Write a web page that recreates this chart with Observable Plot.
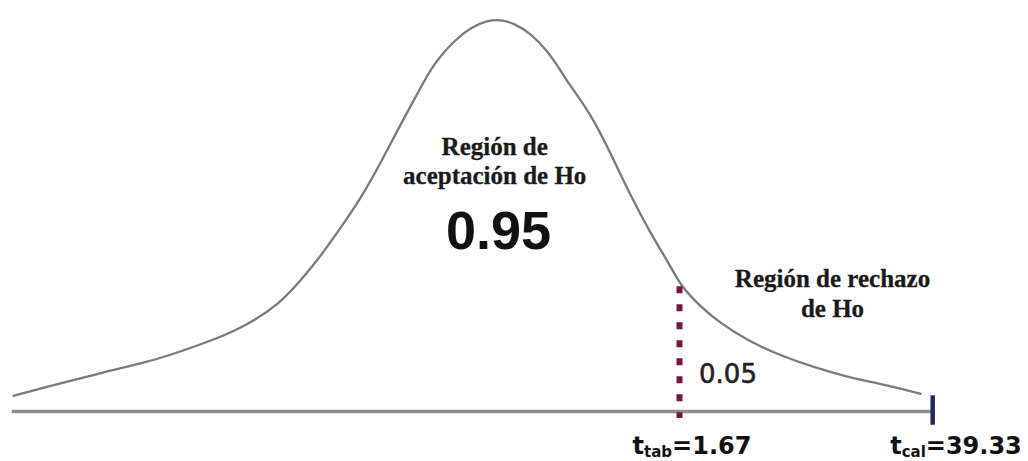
<!DOCTYPE html>
<html>
<head>
<meta charset="utf-8">
<script src="https://cdn.jsdelivr.net/npm/d3@7"></script>
<script src="https://cdn.jsdelivr.net/npm/@observablehq/plot@0.6"></script>
<style>
  html, body { margin: 0; padding: 0; background: #ffffff; }
  #chart svg { display: block; }
</style>
</head>
<body>
<div id="chart"></div>
<script>
// Density curve (position on the drawn axis, height)
const curveT = [-4.00, -3.69, -3.28, -2.86, -2.61, -2.33, -2.05, -1.78, -1.61, -1.44,
                -1.28, -1.11, -0.94, -0.78, -0.61, -0.53, -0.44, -0.33, -0.19, -0.05,
                0.06, 0.17, 0.31, 0.45, 0.56, 0.63, 0.81, 0.98, 1.14, 1.31,
                1.48, 1.56, 1.73, 1.89, 2.12, 2.39, 2.67, 2.95, 3.23, 3.56];
const curveDensity = [0.016, 0.026, 0.039, 0.051, 0.061, 0.073, 0.088, 0.110, 0.133, 0.158,
                      0.186, 0.216, 0.253, 0.291, 0.329, 0.347, 0.362, 0.377, 0.391, 0.398,
                      0.399, 0.395, 0.385, 0.367, 0.347, 0.333, 0.303, 0.262, 0.220, 0.181,
                      0.147, 0.128, 0.106, 0.090, 0.072, 0.057, 0.045, 0.035, 0.028, 0.018];

// Critical values
const tNames = ["tab", "cal"];
const tValues = ["1.67", "39.33"];
const tAxisPos = [1.55, 3.66];       // where each value sits on the drawn axis
const tLabelPos = [1.654, 3.854];

// Region annotations
const regionTexts = ["Región de\naceptación de Ho", "Región de rechazo\nde Ho"];
const regionX = [0.01, 2.825];
const regionY = [0.256, 0.121];
const probTexts = ["0.95", "0.05"];
const probX = [0.042, 1.954];
const probY = [0.1827, 0.037];

const curve = curveT.map((t, i) => ({t, d: curveDensity[i]}));
const crit = tNames.map((n, i) => ({name: n, value: tValues[i], pos: tAxisPos[i], lab: tLabelPos[i]}));
const regions = regionTexts.map((s, i) => ({text: s, x: regionX[i], y: regionY[i]}));

const plot = Plot.plot({
  width: 1028,
  height: 461,
  marginLeft: 13,
  marginRight: 7,
  marginTop: 18,
  marginBottom: 50,
  x: {domain: [-4, 4.4], axis: null},
  y: {domain: [0, 0.4], axis: null},
  marks: [
    // baseline
    Plot.ruleY([0], {x1: -4.01, x2: crit[1].pos, stroke: "#8c8c8c", strokeWidth: 3.5}),
    // density curve
    Plot.line(curve, {x: "t", y: "d", curve: "basis", stroke: "#7b7b7b", strokeWidth: 2.3}),
    // dotted critical line at t_tab
    Plot.ruleX([crit[0]], {x: "pos", y1: 0.127, y2: -0.007, stroke: "#6e1942", strokeWidth: 6, strokeDasharray: "7,11"}),
    // tick at t_cal
    Plot.ruleX([crit[1]], {x: "pos", y1: 0.016, y2: -0.014, stroke: "#1c2a5c", strokeWidth: 4.5}),
    // region labels
    Plot.text(regions, {x: "x", y: "y", text: "text", fontFamily: "'Liberation Serif', 'Times New Roman', serif",
      fontWeight: "bold", fontSize: 25, lineHeight: 1.17, fill: "#1a1a1a", stroke: "#1a1a1a", strokeWidth: 0.3}),
    Plot.text([probTexts[0]], {x: probX[0], y: probY[0], text: d => d, fontFamily: "'Liberation Sans', Arial, sans-serif",
      fontWeight: "bold", fontSize: 54, fill: "#111"}),
    Plot.text([probTexts[1]], {x: probX[1], y: probY[1], text: d => d, fontFamily: "'DejaVu Sans', sans-serif",
      fontSize: 26, fill: "#222", stroke: "#222", strokeWidth: 0.6}),
    // t labels (subscript built below)
    Plot.text(crit, {x: "lab", y: -0.0359, text: d => "t" + d.name + "=" + d.value,
      fontFamily: "'DejaVu Sans', sans-serif", fontWeight: "bold", fontSize: 24, fill: "#111"})
  ]
});

document.getElementById("chart").appendChild(plot);

// Rebuild the t labels with real subscripts
d3.select(plot).selectAll("text").each(function() {
  const el = this;
  const m = /^t(tab|cal)=(.*)$/.exec(el.textContent);
  if (!m) return;
  const sel = d3.select(el);
  sel.text("");
  sel.append("tspan").text("t");
  sel.append("tspan").attr("font-size", 15).attr("dy", 3).text(m[1]);
  sel.append("tspan").attr("dy", -3).text("=" + m[2]);
});
</script>
</body>
</html>
